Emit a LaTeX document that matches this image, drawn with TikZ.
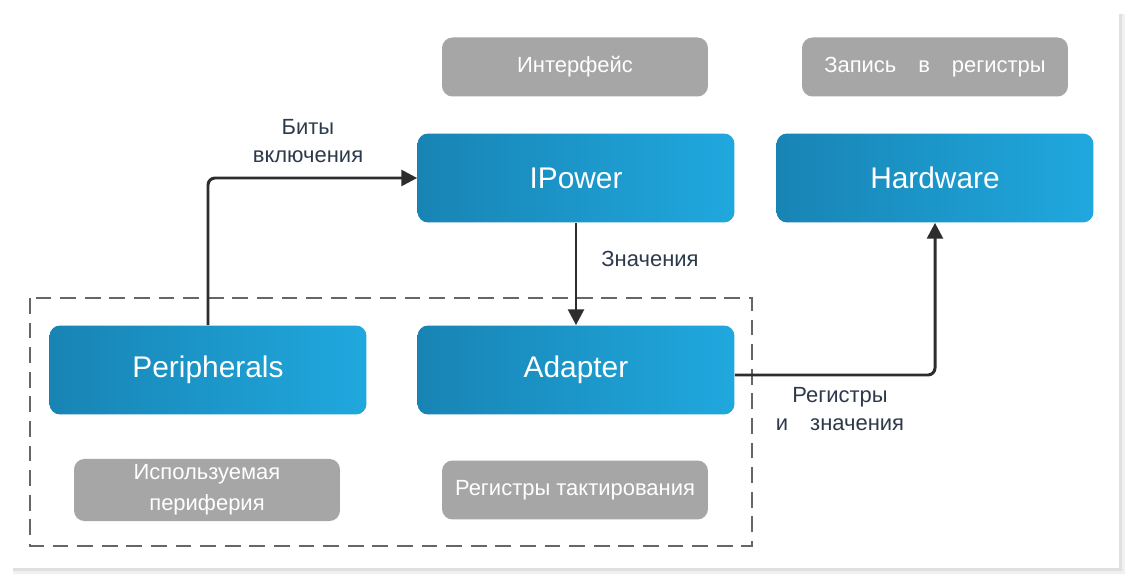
\documentclass[tikz,border=0pt]{standalone}
\usepackage{fontspec}
\setmainfont{Liberation Sans}
\usetikzlibrary{arrows.meta}
\definecolor{blueL}{RGB}{24,132,180}
\definecolor{blueR}{RGB}{32,168,222}
\definecolor{boxgray}{RGB}{166,166,166}
\definecolor{labtext}{RGB}{45,58,75}
\definecolor{arrgray}{RGB}{45,45,45}

\begin{document}
\begin{tikzpicture}[x=0.02cm, y=-0.02cm,
    every node/.style={rounded corners=6pt, align=center},
    blk/.style={left color=blueL, right color=blueR, text=white, minimum width=6.34cm, minimum height=1.78cm, font=\fontsize{17}{20}\selectfont},
    tag/.style={fill=boxgray, text=white, minimum width=5.32cm, minimum height=1.18cm, font=\fontsize{12.5}{15}\selectfont},
    lbl/.style={text=labtext, font=\fontsize{12.5}{17}\selectfont},
    arr/.style={draw=arrgray, line width=1.7pt, -{Triangle[length=9pt,width=9pt]}, rounded corners=4pt}]
  \useasboundingbox (0,0) rectangle (1130,580);
  % page with shadow
  \fill[black!6] (13,14) rectangle (1125,574);
  \fill[black!12] (13,14) rectangle (1122,571);
  \fill[white] (11,12) rectangle (1119,568);
  % group frame
  \draw[black!60, line width=1.1pt, dash pattern=on 9pt off 5pt] (30,298) rectangle (752,546);
  % gray notes
  \node[tag] (itf) at (575,67) {Интерфейс};
  \node[tag] (wr) at (935,67) {Запись\quad в\quad регистры};
  \node[tag, font=\fontsize{12.5}{17.5}\selectfont] (used) at (207,490) {Используемая\\периферия};
  \node[tag] (clk) at (575,490) {Регистры тактирования};
  % blue blocks
  \node[blk] (ipw) at (576,178) {IPower};
  \node[blk] (hw) at (935,178) {Hardware};
  \node[blk] (per) at (208,370) {Peripherals};
  \node[blk] (adp) at (576,370) {Adapter};
  % connectors
  \draw[arr] (per.north) |- (ipw.west);
  \draw[arr] (ipw.south) -- (adp.north);
  \draw[arr] ([yshift=-0.1cm]adp.east) -| (hw.south);
  \node[lbl] (bits) at (308,141) {Биты\\[-1pt]включения};
  \node[lbl] (val) at (650,259) {Значения};
  \node[lbl] (regs) at (840,409) {Регистры\\[-1pt]и\quad значения};
\end{tikzpicture}
\end{document}
